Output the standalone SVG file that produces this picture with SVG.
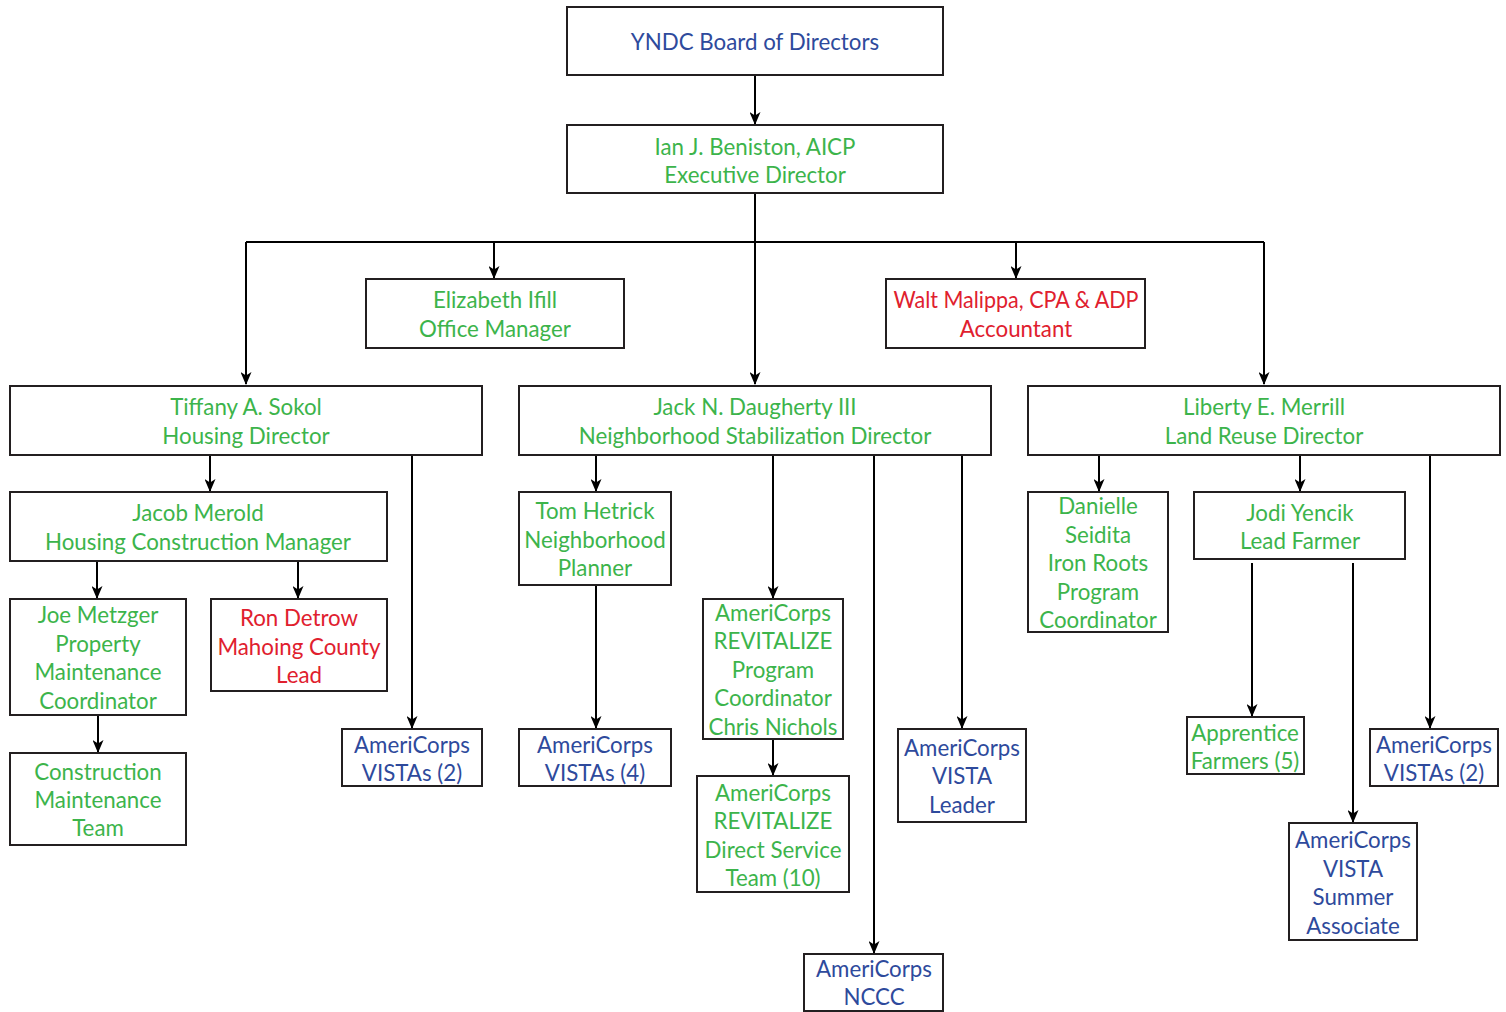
<svg xmlns="http://www.w3.org/2000/svg" width="1506" height="1012" viewBox="0 0 1506 1012">
<style>
.box{fill:#fff;stroke:#231f20;stroke-width:2}
text{font-family:Lato,"Liberation Sans",sans-serif;font-size:22.3px;text-anchor:middle}
.g{fill:#3cb44b}
.b{fill:#2e4a9c}
.r{fill:#e0202e}
.c{fill:none;stroke:#000;stroke-width:2}
</style>
<defs>
<marker id="a" markerUnits="userSpaceOnUse" markerWidth="13" markerHeight="11" refX="12" refY="5.5" orient="auto" viewBox="0 0 13 11"><path d="M0,0 L13,5.5 L0,11 L3.5,5.5 Z" fill="#000"/></marker>
</defs>
<g id="connectors">
<path class="c" d="M755,75 V124" marker-end="url(#a)"/>
<path class="c" d="M755,193 V242 M246,242 H1264"/>
<path class="c" d="M246,242 V384" marker-end="url(#a)"/>
<path class="c" d="M494,242 V278" marker-end="url(#a)"/>
<path class="c" d="M755,242 V384" marker-end="url(#a)"/>
<path class="c" d="M1016,242 V278" marker-end="url(#a)"/>
<path class="c" d="M1264,242 V384" marker-end="url(#a)"/>
<path class="c" d="M210,455 V491" marker-end="url(#a)"/>
<path class="c" d="M412,455 V728" marker-end="url(#a)"/>
<path class="c" d="M97,561 V598" marker-end="url(#a)"/>
<path class="c" d="M298,561 V598" marker-end="url(#a)"/>
<path class="c" d="M98,715 V752" marker-end="url(#a)"/>
<path class="c" d="M596,455 V491" marker-end="url(#a)"/>
<path class="c" d="M596,585 V728" marker-end="url(#a)"/>
<path class="c" d="M773,455 V598" marker-end="url(#a)"/>
<path class="c" d="M773,739 V775" marker-end="url(#a)"/>
<path class="c" d="M874,455 V953" marker-end="url(#a)"/>
<path class="c" d="M962,455 V728" marker-end="url(#a)"/>
<path class="c" d="M1099,455 V491" marker-end="url(#a)"/>
<path class="c" d="M1300,455 V491" marker-end="url(#a)"/>
<path class="c" d="M1252,563 V716" marker-end="url(#a)"/>
<path class="c" d="M1353,563 V822" marker-end="url(#a)"/>
<path class="c" d="M1430,455 V728" marker-end="url(#a)"/>
</g>
<g id="board"><rect class="box" x="567" y="7" width="376" height="68"/><text class="b" x="755" y="50">YNDC Board of Directors</text></g>
<g id="ian"><rect class="box" x="567" y="125" width="376" height="68"/><text class="g" x="755" y="155">Ian J. Beniston, AICP</text><text class="g" x="755" y="183">Executive Director</text></g>
<g id="elizabeth"><rect class="box" x="366" y="279" width="258" height="69"/><text class="g" x="495" y="308">Elizabeth Ifill</text><text class="g" x="495" y="337">Office Manager</text></g>
<g id="walt"><rect class="box" x="886" y="279" width="259" height="69"/><text class="r" x="1016" y="308" textLength="245" lengthAdjust="spacingAndGlyphs">Walt Malippa, CPA &amp; ADP</text><text class="r" x="1016" y="337">Accountant</text></g>
<g id="tiffany"><rect class="box" x="10" y="386" width="472" height="69"/><text class="g" x="246" y="415">Tiffany A. Sokol</text><text class="g" x="246" y="444">Housing Director</text></g>
<g id="jack"><rect class="box" x="519" y="386" width="472" height="69"/><text class="g" x="755" y="415">Jack N. Daugherty III</text><text class="g" x="755" y="444">Neighborhood Stabilization Director</text></g>
<g id="liberty"><rect class="box" x="1028" y="386" width="472" height="69"/><text class="g" x="1264" y="415">Liberty E. Merrill</text><text class="g" x="1264" y="444">Land Reuse Director</text></g>
<g id="jacob"><rect class="box" x="10" y="492" width="377" height="69"/><text class="g" x="198" y="521">Jacob Merold</text><text class="g" x="198" y="550">Housing Construction Manager</text></g>
<g id="joe"><rect class="box" x="10" y="599" width="176" height="116"/><text class="g" x="98" y="623">Joe Metzger</text><text class="g" x="98" y="652">Property</text><text class="g" x="98" y="680">Maintenance</text><text class="g" x="98" y="709">Coordinator</text></g>
<g id="ron"><rect class="box" x="211" y="599" width="176" height="92"/><text class="r" x="299" y="626">Ron Detrow</text><text class="r" x="299" y="655">Mahoing County</text><text class="r" x="299" y="683">Lead</text></g>
<g id="construction"><rect class="box" x="10" y="753" width="176" height="92"/><text class="g" x="98" y="780">Construction</text><text class="g" x="98" y="808">Maintenance</text><text class="g" x="98" y="836">Team</text></g>
<g id="vistas2left"><rect class="box" x="342" y="729" width="140" height="57"/><text class="b" x="412" y="753">AmeriCorps</text><text class="b" x="412" y="781">VISTAs (2)</text></g>
<g id="tom"><rect class="box" x="519" y="492" width="152" height="93"/><text class="g" x="595" y="519">Tom Hetrick</text><text class="g" x="595" y="548">Neighborhood</text><text class="g" x="595" y="576">Planner</text></g>
<g id="vistas4"><rect class="box" x="519" y="729" width="152" height="57"/><text class="b" x="595" y="753">AmeriCorps</text><text class="b" x="595" y="781">VISTAs (4)</text></g>
<g id="revcoord"><rect class="box" x="703" y="599" width="140" height="140"/><text class="g" x="773" y="621">AmeriCorps</text><text class="g" x="773" y="649">REVITALIZE</text><text class="g" x="773" y="678">Program</text><text class="g" x="773" y="706">Coordinator</text><text class="g" x="773" y="735">Chris Nichols</text></g>
<g id="revteam"><rect class="box" x="697" y="776" width="152" height="116"/><text class="g" x="773" y="801">AmeriCorps</text><text class="g" x="773" y="829">REVITALIZE</text><text class="g" x="773" y="858">Direct Service</text><text class="g" x="773" y="886">Team (10)</text></g>
<g id="nccc"><rect class="box" x="804" y="954" width="139" height="57"/><text class="b" x="874" y="977">AmeriCorps</text><text class="b" x="874" y="1005">NCCC</text></g>
<g id="vistaleader"><rect class="box" x="898" y="729" width="128" height="93"/><text class="b" x="962" y="756">AmeriCorps</text><text class="b" x="962" y="784">VISTA</text><text class="b" x="962" y="813">Leader</text></g>
<g id="danielle"><rect class="box" x="1028" y="492" width="140" height="140"/><text class="g" x="1098" y="514">Danielle</text><text class="g" x="1098" y="543">Seidita</text><text class="g" x="1098" y="571">Iron Roots</text><text class="g" x="1098" y="600">Program</text><text class="g" x="1098" y="628">Coordinator</text></g>
<g id="jodi"><rect class="box" x="1194" y="492" width="211" height="67"/><text class="g" x="1300" y="521">Jodi Yencik</text><text class="g" x="1300" y="549">Lead Farmer</text></g>
<g id="apprentice"><rect class="box" x="1187" y="717" width="117" height="57"/><text class="g" x="1245" y="741">Apprentice</text><text class="g" x="1245" y="769">Farmers (5)</text></g>
<g id="summer"><rect class="box" x="1289" y="823" width="128" height="117"/><text class="b" x="1353" y="848">AmeriCorps</text><text class="b" x="1353" y="877">VISTA</text><text class="b" x="1353" y="905">Summer</text><text class="b" x="1353" y="934">Associate</text></g>
<g id="vistas2right"><rect class="box" x="1370" y="729" width="128" height="57"/><text class="b" x="1434" y="753">AmeriCorps</text><text class="b" x="1434" y="781">VISTAs (2)</text></g>
</svg>
